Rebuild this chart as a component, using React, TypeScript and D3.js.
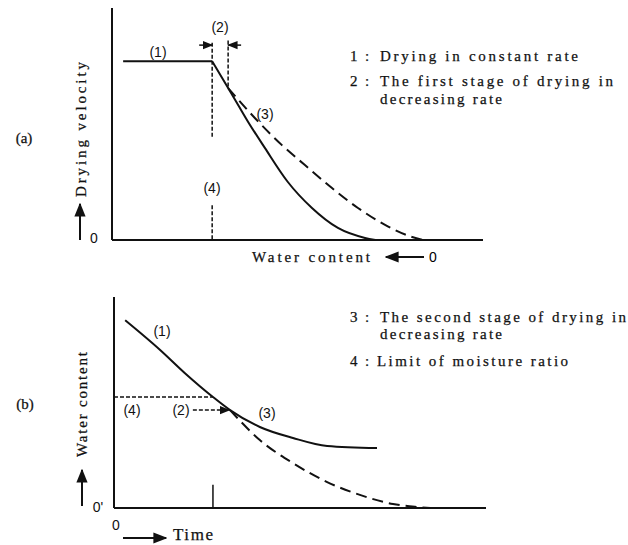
import React from 'react';
import * as d3 from 'd3';

// (a) drying velocity vs water content, arbitrary units 0..100
const velocityConstant: [number, number][] = [[3, 77], [27, 77]];
const velocityFalling: [number, number][] = [
  [27, 77], [31.3, 65.5], [34, 58.2], [36.7, 50.9], [41.2, 39.7],
  [47.4, 25], [53.9, 13.8], [60.9, 5.2], [68.2, 0.9], [71, 0]
];
const velocityFirstStage: [number, number][] = [
  [31.3, 65.5], [38.5, 52.6], [45.8, 40.9], [52, 32.3], [59.3, 22.4],
  [66.3, 13.8], [73.6, 6.5], [80.9, 1.3], [84, 0]
];
const criticalContentA = 27;
const firstStageEndA = 31.3;

// (b) water content vs time
const contentActual: [number, number][] = [
  [3, 89], [12.4, 74.9], [19, 64], [26.6, 52.6], [31.2, 46.4],
  [39.2, 38.4], [48.1, 33.2], [57.3, 29.4], [70.7, 28.4]
];
const contentFirstStage: [number, number][] = [
  [31.2, 46.4], [39.2, 32.2], [48.1, 21.3], [57.3, 12.3], [66.1, 6.2],
  [75, 1.9], [81.5, 0.5], [85, 0]
];
const criticalTimeB = 26.6;
const criticalContentB = 52.6;
const secondLevelB = 46.4;

const legendTop = [
  { num: '1', lines: ['Drying in constant rate'], widths: [198] },
  { num: '2', lines: ['The first stage of drying in', 'decreasing rate'], widths: [233, 122] }
];
const legendBottom = [
  { num: '3', lines: ['The second stage of drying in', 'decreasing rate'], widths: [246, 122] },
  { num: '4', lines: ['Limit of moisture ratio'], widths: [191] }
];

const serif = '"Liberation Serif", "DejaVu Serif", serif';
const sans = '"Liberation Sans", Arial, sans-serif';

export default function App() {
  const xA = d3.scaleLinear().domain([0, 100]).range([112, 483]);
  const yA = d3.scaleLinear().domain([0, 100]).range([240, 8]);
  const xB = d3.scaleLinear().domain([0, 100]).range([114, 486]);
  const yB = d3.scaleLinear().domain([0, 100]).range([508, 297]);

  const lineA = d3.line<[number, number]>().x(d => xA(d[0])).y(d => yA(d[1])).curve(d3.curveMonotoneX);
  const lineB = d3.line<[number, number]>().x(d => xB(d[0])).y(d => yB(d[1])).curve(d3.curveMonotoneX);

  const ink = '#111';

  const legend = (items: typeof legendTop, baselines: number[][]) =>
    items.map((it, i) => (
      <g key={it.num} fontFamily={serif} fontSize={15} fill={ink} stroke={ink} strokeWidth={0.25}>
        <text x={350} y={baselines[i][0]}>{it.num}</text>
        <text x={365} y={baselines[i][0]}>:</text>
        {it.lines.map((l, j) => (
          <text key={j} x={it.num === '4' ? 377 : 380} y={baselines[i][j]}
            textLength={it.widths[j]} lengthAdjust="spacing">{l}</text>
        ))}
      </g>
    ));

  return (
    <div style={{ position: 'absolute', left: 0, top: 0 }}>
      <svg width={628} height={545} style={{ display: 'block', background: '#fff' }}>
        <defs>
          <marker id="head" viewBox="0 0 10 10" refX="9" refY="5" markerWidth="7" markerHeight="7" orient="auto-start-reverse">
            <path d="M0,1 L10,5 L0,9 z" fill={ink} />
          </marker>
        </defs>

        {/* ---------- (a) ---------- */}
        <g fill="none" stroke={ink}>
          <line x1={xA(0)} y1={yA(0)} x2={xA(0)} y2={yA(100)} strokeWidth={2} />
          <line x1={xA(0)} y1={yA(0)} x2={xA(100)} y2={yA(0)} strokeWidth={2} />
          <path d={lineA(velocityConstant) || ''} strokeWidth={2} />
          <path d={lineA(velocityFalling) || ''} strokeWidth={2} />
          <path d={lineA(velocityFirstStage) || ''} strokeWidth={2} strokeDasharray="11 6" />
          <line x1={xA(criticalContentA)} y1={yA(85)} x2={xA(criticalContentA)} y2={yA(44)} strokeWidth={1.5} strokeDasharray="4 2" />
          <line x1={xA(criticalContentA)} y1={yA(15)} x2={xA(criticalContentA)} y2={yA(0)} strokeWidth={1.5} strokeDasharray="4 2" />
          <line x1={xA(firstStageEndA)} y1={yA(86)} x2={xA(firstStageEndA)} y2={yA(65.5)} strokeWidth={1.5} strokeDasharray="4 2" />
          <line x1={xA(23.5)} y1={yA(84)} x2={xA(criticalContentA)} y2={yA(84)} strokeWidth={1.5} markerEnd="url(#head)" />
          <line x1={xA(34.8)} y1={yA(84)} x2={xA(firstStageEndA)} y2={yA(84)} strokeWidth={1.5} markerEnd="url(#head)" />
          {/* y arrow */}
          <line x1={80} y1={240} x2={80} y2={204} strokeWidth={2} markerEnd="url(#head)" />
          {/* water content arrow */}
          <line x1={424} y1={257} x2={386} y2={257} strokeWidth={2} markerEnd="url(#head)" />
        </g>
        <g fontFamily={sans} fontSize={14} fill={ink} textAnchor="middle">
          <text x={158} y={57}>(1)</text>
          <text x={220} y={32}>(2)</text>
          <text x={265} y={119}>(3)</text>
          <text x={212} y={193}>(4)</text>
          <text x={94} y={243}>0</text>
        </g>
        <g fontFamily={serif} fontSize={15} fill={ink} stroke={ink} strokeWidth={0.25}>
          <text x={24} y={143} textAnchor="middle">(a)</text>
          <text transform="translate(86,197) rotate(-90)" textLength={135} lengthAdjust="spacing">Drying velocity</text>
          <text x={252} y={262} textLength={118} lengthAdjust="spacing">Water content</text>
        </g>
        <text x={429} y={262} fontFamily={sans} fontSize={14}>0</text>
        {legend(legendTop, [[61], [86, 104]])}

        {/* ---------- (b) ---------- */}
        <g fill="none" stroke={ink}>
          <line x1={xB(0)} y1={yB(0)} x2={xB(0)} y2={yB(100)} strokeWidth={2} />
          <line x1={xB(0)} y1={yB(0)} x2={xB(100)} y2={yB(0)} strokeWidth={2} />
          <path d={lineB(contentActual) || ''} strokeWidth={2} />
          <path d={lineB(contentFirstStage) || ''} strokeWidth={2} strokeDasharray="11 6" />
          <line x1={xB(0)} y1={yB(criticalContentB)} x2={xB(criticalTimeB)} y2={yB(criticalContentB)} strokeWidth={1.5} strokeDasharray="4 2" />
          <line x1={xB(21.2)} y1={yB(secondLevelB)} x2={xB(31)} y2={yB(secondLevelB)} strokeWidth={1.5} strokeDasharray="4 2" markerEnd="url(#head)" />
          <line x1={xB(criticalTimeB)} y1={yB(0)} x2={xB(criticalTimeB)} y2={yB(11)} strokeWidth={1.5} />
          <line x1={82} y1={506} x2={82} y2={470} strokeWidth={2} markerEnd="url(#head)" />
          <line x1={123} y1={538} x2={166} y2={538} strokeWidth={2} markerEnd="url(#head)" />
        </g>
        <g fontFamily={sans} fontSize={14} fill={ink} textAnchor="middle">
          <text x={162} y={336}>(1)</text>
          <text x={132} y={415}>(4)</text>
          <text x={181} y={415}>(2)</text>
          <text x={267} y={418}>(3)</text>
          <text x={98} y={512}>0'</text>
          <text x={116} y={530}>0</text>
        </g>
        <g fontFamily={serif} fontSize={15} fill={ink} stroke={ink} strokeWidth={0.25}>
          <text x={25} y={409} textAnchor="middle">(b)</text>
          <text transform="translate(87,457) rotate(-90)" textLength={105} lengthAdjust="spacing">Water content</text>
          <text x={173} y={540} fontSize={17} textLength={40} lengthAdjust="spacing">Time</text>
        </g>
        {legend(legendBottom, [[322, 339], [366]])}
      </svg>
    </div>
  );
}
